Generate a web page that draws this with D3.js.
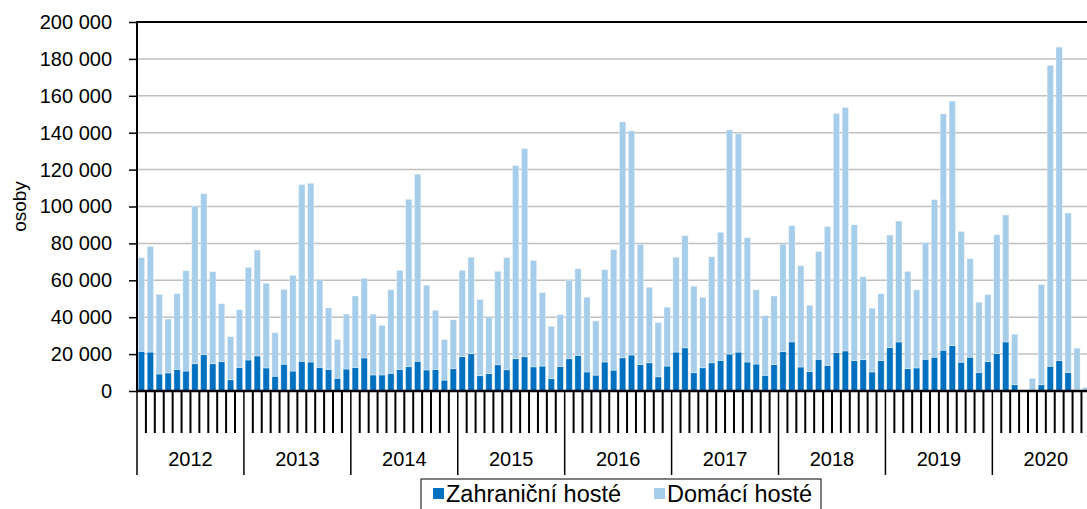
<!DOCTYPE html>
<html>
<head>
<meta charset="utf-8">
<script src="https://cdn.jsdelivr.net/npm/d3@7"></script>
<style>
  body { margin: 0; background: #fff; }
  svg { display: block; font-family: 'Liberation Sans', Arial, sans-serif; }
</style>
</head>
<body>
<div id="chart"></div>
<script>
const years = [2012, 2013, 2014, 2015, 2016, 2017, 2018, 2019, 2020]

// Zahraniční hosté (foreign guests), monthly
const foreign = [
  21500, 21100, 9200, 9800, 11700, 10800, 14800, 19700, 14800, 15900, 6100, 12800,
  16800, 19000, 12500, 8000, 14500, 10800, 16100, 15700, 12800, 11700, 6900, 11900,
  12800, 17900, 8700, 8700, 9600, 11700, 13200, 16100, 11400, 11700, 5900, 12100,
  18600, 20200, 8300, 9500, 14200, 11500, 17500, 18600, 13100, 13500, 6700, 13300,
  17500, 19300, 10300, 8600, 15700, 11300, 18000, 19500, 14400, 15300, 7700, 13500,
  21100, 23400, 9900, 12600, 15300, 16600, 20000, 21100, 15700, 14600, 8500, 14400,
  21400, 26600, 13000, 10500, 17200, 13900, 20800, 21700, 16500, 17000, 10300, 16500,
  23500, 26600, 12100, 12500, 17200, 18300, 22100, 24600, 15600, 18300, 10000, 15900,
  20300, 26600, 3400, 0, 200, 3400, 13400, 16500, 10000, 800, 200, 300
]

// Domácí hosté (domestic guests), monthly
const domestic = [
  50800, 57300, 43200, 29200, 41100, 54400, 85300, 87300, 49900, 31400, 23400, 31300,
  50200, 57400, 45900, 23600, 40600, 51900, 95800, 96900, 47700, 33300, 21100, 29800,
  38700, 43200, 32900, 26900, 45300, 53700, 90700, 101400, 45900, 32000, 22000, 26500,
  46800, 52300, 41300, 30700, 50700, 60800, 104700, 112800, 57700, 39900, 28400, 28200,
  42500, 47000, 40500, 29400, 50100, 65300, 127900, 121500, 65100, 40900, 29400, 31900,
  51400, 60800, 46900, 38100, 57500, 69400, 121500, 118300, 67400, 40200, 32400, 37100,
  58200, 63000, 54900, 36000, 58500, 75200, 129600, 132000, 73600, 44900, 34600, 36200,
  61000, 65500, 52700, 42300, 63200, 85400, 128100, 132500, 70900, 53400, 38100, 36400,
  64400, 68800, 27400, 0, 6700, 54300, 163100, 169900, 86500, 22400, 1800, 1200
]

const yTicks = [0, 20000, 40000, 60000, 80000, 100000, 120000, 140000, 160000, 180000, 200000]
const seriesNames = ['Zahraniční hosté', 'Domácí hosté']
const colors = ['#0070c0', '#a6cde9']

const width = 1087
const height = 509
const plotLeft = 137
const plotTop = 22
const plotBottom = 391
const step = 8.91

const svg = d3
  .select('#chart')
  .append('svg')
  .attr('width', width)
  .attr('height', height)

const months = d3.range(foreign.length)
const rows = months.map(i => ({ i: i, foreign: foreign[i], domestic: domestic[i] }))

const x = d3
  .scaleBand()
  .domain(months)
  .range([plotLeft, plotLeft + step * months.length])
  .paddingInner(0.29)
  .paddingOuter(0.145)

const y = d3.scaleLinear().domain([0, 200000]).range([plotBottom, plotTop])

const fmt = d3.formatLocale({ decimal: ',', thousands: ' ', grouping: [3] }).format(',')

// grid lines
svg
  .append('g')
  .selectAll('line')
  .data(yTicks.slice(1, -1))
  .enter()
  .append('line')
  .attr('x1', plotLeft)
  .attr('x2', width)
  .attr('y1', d => y(d))
  .attr('y2', d => y(d))
  .attr('stroke', '#c0c0c0')
  .attr('stroke-width', 1.5)

// stacked bars
const stack = d3.stack().keys(['foreign', 'domestic'])(rows)

svg
  .append('g')
  .selectAll('g')
  .data(stack)
  .enter()
  .append('g')
  .attr('fill', (d, k) => colors[k])
  .selectAll('rect')
  .data(d => d)
  .enter()
  .append('rect')
  .attr('x', d => x(d.data.i))
  .attr('width', x.bandwidth())
  .attr('y', d => y(d[1]))
  .attr('height', d => y(d[0]) - y(d[1]))
  .attr('stroke', '#ffffff')
  .attr('stroke-opacity', 0.45)
  .attr('stroke-width', 0.8)

// top border of plot area
svg
  .append('line')
  .attr('x1', plotLeft)
  .attr('x2', width)
  .attr('y1', y(200000))
  .attr('y2', y(200000))
  .attr('stroke', '#000')
  .attr('stroke-width', 2)

// y axis
const yAxis = d3
  .axisLeft(y)
  .tickValues(yTicks)
  .tickSize(8)
  .tickPadding(17)
  .tickFormat(fmt)

const yg = svg
  .append('g')
  .attr('transform', 'translate(' + plotLeft + ',0)')
  .call(yAxis)
yg.select('.domain').remove()
yg.selectAll('.tick line').attr('stroke', '#000').attr('stroke-width', 1.5)
yg.selectAll('.tick text')
  .attr('font-size', 20)
  .attr('font-family', "'Liberation Sans', Arial, sans-serif")
  .attr('fill', '#000')

svg
  .append('line')
  .attr('x1', plotLeft)
  .attr('x2', plotLeft)
  .attr('y1', plotTop - 1)
  .attr('y2', plotBottom + 1)
  .attr('stroke', '#000')
  .attr('stroke-width', 2)

svg
  .append('text')
  .text('osoby')
  .attr('transform', 'translate(26,' + (plotTop + plotBottom) / 2 + ') rotate(-90)')
  .attr('text-anchor', 'middle')
  .attr('font-size', 19)
  .attr('fill', '#000')

// x axis: month ticks and year dividers
const edges = d3.range(months.length + 1)
const edgeX = i => plotLeft + i * x.step()

svg
  .append('g')
  .selectAll('line')
  .data(edges)
  .enter()
  .append('line')
  .attr('x1', d => edgeX(d))
  .attr('x2', d => edgeX(d))
  .attr('y1', plotBottom)
  .attr('y2', d => (d % 12 === 0 ? 475 : 433))
  .attr('stroke', '#000')
  .attr('stroke-width', d => (d % 12 === 0 ? 1.5 : 2))

svg
  .append('line')
  .attr('x1', plotLeft)
  .attr('x2', width)
  .attr('y1', plotBottom)
  .attr('y2', plotBottom)
  .attr('stroke', '#000')
  .attr('stroke-width', 2.5)

svg
  .append('g')
  .selectAll('text')
  .data(years)
  .enter()
  .append('text')
  .text(d => d)
  .attr('x', (d, k) => (edgeX(k * 12) + edgeX(k * 12 + 12)) / 2)
  .attr('y', 466)
  .attr('text-anchor', 'middle')
  .attr('font-size', 20)
  .attr('fill', '#000')

// legend
const legend = svg.append('g')
legend
  .append('rect')
  .attr('x', 421)
  .attr('y', 479)
  .attr('width', 400)
  .attr('height', 45)
  .attr('fill', '#fff')
  .attr('stroke', '#000')
  .attr('stroke-width', 1)

const legendX = [433, 654]
seriesNames.forEach((name, k) => {
  legend
    .append('rect')
    .attr('x', legendX[k])
    .attr('y', 488)
    .attr('width', 11)
    .attr('height', 11)
    .attr('fill', colors[k])
  legend
    .append('text')
    .text(name)
    .attr('x', legendX[k] + 13)
    .attr('y', 502)
    .attr('font-size', 23.5)
    .attr('fill', '#000')
})
</script>
</body>
</html>
